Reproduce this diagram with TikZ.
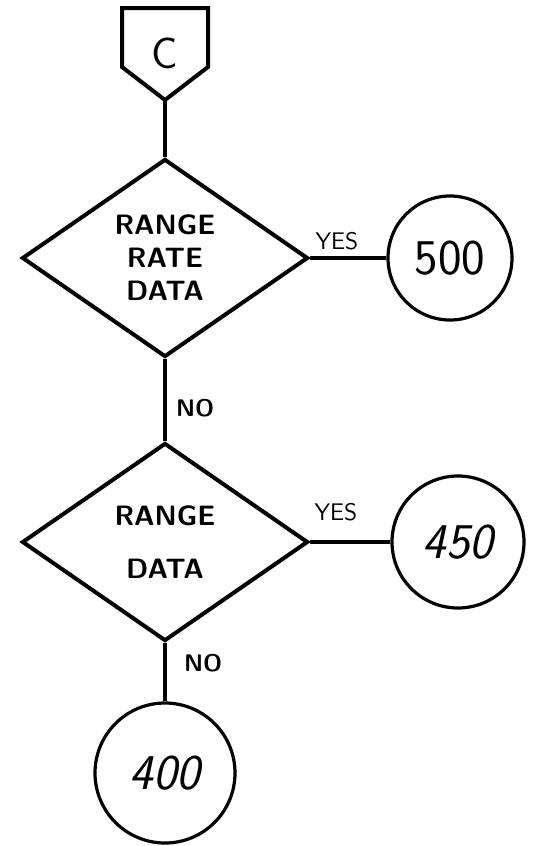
\documentclass[tikz,border=0pt]{standalone}
\usepackage{tikz}
\usetikzlibrary{positioning, shapes.geometric}
\tikzset{
	x=0.5pt, y=-0.5pt, % one unit is one pixel of the scan
	every path/.style={line width=2pt}, % thick pen strokes
	decision/.style={diamond, draw, line width=2pt, inner sep=0pt, minimum width=143pt, minimum height=99pt, align=center, font=\sffamily\bfseries\fontsize{14}{16.5}\selectfont}, % the question boxes
	target/.style={circle, draw, line width=1.6pt, inner sep=0pt, font=\sffamily\fontsize{25}{25}\selectfont}, % the connector circles
	answer/.style={font=\sffamily\fontsize{12}{12}\selectfont, inner sep=1pt}, % YES / NO labels
}

\begin{document}
\begin{tikzpicture}
		\useasboundingbox (0,0) rectangle (549,846);

		% off-page connector
		\draw (122,8) -- (208,8) -- (208,67) -- (165,100) -- (122,67) -- cycle;
		\node[font=\sffamily\fontsize{22}{22}\selectfont](c) at (165,53){C};
		\coordinate (ctip) at (165,100);

		\node[decision](d1) at (165,258){RANGE\\RATE\\DATA};
		\node[decision](d2) at (165,542){RANGE\\[10pt]DATA};

		\node[target, minimum size=62pt](t500) at (450,258){500};
		\node[target, minimum size=66pt, font=\sffamily\itshape\fontsize{25}{25}\selectfont](t450) at (458,542){450};
		\node[target, minimum size=70pt, font=\sffamily\itshape\fontsize{25}{25}\selectfont](t400) at (165,773){400};

		\draw (ctip) -- (d1.north);
		\draw (d1.east) -- (t500.west);
		\draw (d1.south) -- (d2.north);
		\draw (d2.east) -- (t450.west);
		\draw (d2.south) -- (t400.north);

		\node[answer](yes1) at (337,241){YES};
		\node[answer](yes2) at (336,512){YES};
		\node[answer, anchor=west, font=\sffamily\bfseries\fontsize{12}{12}\selectfont](no1) at (172,408){NO};
		\node[answer, anchor=west, font=\sffamily\bfseries\fontsize{12}{12}\selectfont](no2) at (180,663){NO};

	\end{tikzpicture}
\end{document}
